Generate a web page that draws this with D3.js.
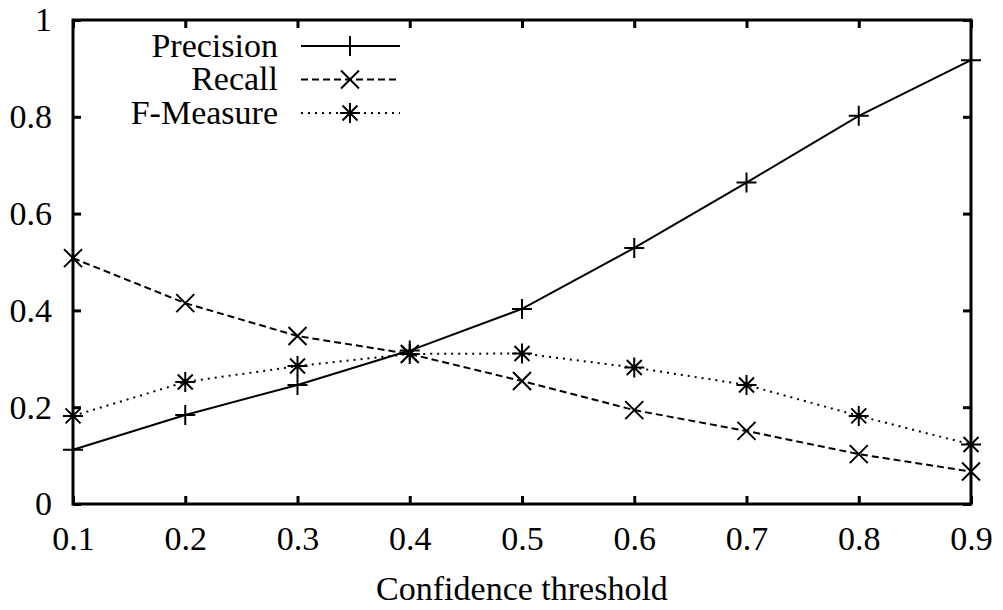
<!DOCTYPE html>
<html>
<head>
<meta charset="utf-8">
<script src="https://cdn.jsdelivr.net/npm/d3@7"></script>
<style>
  body { margin: 0; background: #fff; }
  svg text { font-family: "Liberation Serif", "Times New Roman", Times, serif !important; fill: #000; }
</style>
</head>
<body>
<div id="chart"></div>
<script>
// data
const thresholds = [0.1, 0.2, 0.3, 0.4, 0.5, 0.6, 0.7, 0.8, 0.9];
const precision = [0.112, 0.184, 0.246, 0.317, 0.403, 0.529, 0.664, 0.802, 0.917];
const recall = [0.508, 0.415, 0.347, 0.31, 0.254, 0.194, 0.151, 0.103, 0.067];
const fMeasure = [0.182, 0.252, 0.285, 0.31, 0.311, 0.282, 0.246, 0.182, 0.123];
const yTicks = [0, 0.2, 0.4, 0.6, 0.8, 1];
const seriesNames = ['Precision', 'Recall', 'F-Measure'];

const FONT = '"Liberation Serif", "Times New Roman", Times, serif';
const FS = 34;

const options = {
	w: 1003,
	h: 610,
	mTop: 20,
	mRight: 32,
	mBottom: 106,
	mLeft: 73
};

const width = options.w - (options.mLeft + options.mRight),
	height = options.h - (options.mTop + options.mBottom);

const svg = d3.select('#chart').append('svg')
	.attr('width', options.w)
	.attr('height', options.h)
	.attr('font-family', FONT);

const g = svg.append('g')
	.attr('transform', 'translate(' + options.mLeft + ',' + options.mTop + ')');

const x = d3.scaleLinear().domain([0.1, 0.9]).range([0, width]),
	y = d3.scaleLinear().domain([0, 1]).range([height, 0]);

// axes: ticks drawn inward on all four sides
const xAxis = d3.axisBottom(x).tickValues(thresholds).tickSize(-8).tickPadding(22).tickFormat(d3.format('.1f')),
	xAxisTop = d3.axisTop(x).tickValues(thresholds).tickSize(-8).tickFormat(''),
	yAxis = d3.axisLeft(y).tickValues(yTicks).tickSize(-8).tickPadding(21).tickFormat(d => d === 0 || d === 1 ? d : d3.format('.1f')(d)),
	yAxisRight = d3.axisRight(y).tickValues(yTicks).tickSize(-8).tickFormat('');

function styleAxis(sel) {
	sel.attr('font-family', FONT);
	sel.select('.domain').remove();
	sel.selectAll('.tick line').attr('stroke', '#000').attr('stroke-width', 3);
	sel.selectAll('.tick text').attr('font-size', FS).attr('fill', '#000');
}

g.append('g').attr('transform', 'translate(0,' + height + ')').call(xAxis).call(styleAxis)
	.selectAll('.tick text').attr('dy', '0.71em');
g.append('g').call(xAxisTop).call(styleAxis);
g.append('g').call(yAxis).call(styleAxis);
g.append('g').attr('transform', 'translate(' + width + ',0)').call(yAxisRight).call(styleAxis);

g.append('rect')
	.attr('width', width)
	.attr('height', height)
	.attr('fill', 'none')
	.attr('stroke', '#000')
	.attr('stroke-width', 3);

g.append('text')
	.attr('x', width / 2)
	.attr('y', height + 96)
	.attr('text-anchor', 'middle')
	.attr('font-size', FS)
	.text('Confidence threshold');

// markers
const markers = {
	plus: s => `M${-s},0H${s}M0,${-s}V${s}`,
	cross: s => `M${-s},${-s}L${s},${s}M${-s},${s}L${s},${-s}`,
	star: s => `M${-s},0H${s}M0,${-s}V${s}M${-s * 0.75},${-s * 0.75}L${s * 0.75},${s * 0.75}M${-s * 0.75},${s * 0.75}L${s * 0.75},${-s * 0.75}`
};

const series = [
	{ name: seriesNames[0], values: precision, dash: null, marker: markers.plus(10) },
	{ name: seriesNames[1], values: recall, dash: '7,4', marker: markers.cross(9) },
	{ name: seriesNames[2], values: fMeasure, dash: '2,5', marker: markers.star(10) }
];

const line = d3.line()
	.x((d, i) => x(thresholds[i]))
	.y(d => y(d));

series.forEach(s => {
	g.append('path')
		.datum(s.values)
		.attr('fill', 'none')
		.attr('stroke', '#000')
		.attr('stroke-width', 2)
		.attr('stroke-dasharray', s.dash)
		.attr('d', line);

	g.selectAll(null)
		.data(s.values)
		.enter()
		.append('path')
		.attr('transform', (d, i) => 'translate(' + x(thresholds[i]) + ',' + y(d) + ')')
		.attr('d', s.marker)
		.attr('stroke', '#000')
		.attr('stroke-width', 2)
		.attr('fill', 'none');
});

// legend
const legend = svg.append('g');
series.forEach((s, i) => {
	const ly = 46 + i * 33.5;
	legend.append('text')
		.attr('x', 278)
		.attr('y', ly)
		.attr('dy', '0.32em')
		.attr('text-anchor', 'end')
		.attr('font-size', FS)
		.text(s.name);
	legend.append('line')
		.attr('x1', 301).attr('x2', 400)
		.attr('y1', ly).attr('y2', ly)
		.attr('stroke', '#000')
		.attr('stroke-width', 2)
		.attr('stroke-dasharray', s.dash);
	legend.append('path')
		.attr('transform', 'translate(350,' + ly + ')')
		.attr('d', s.marker)
		.attr('stroke', '#000')
		.attr('stroke-width', 2)
		.attr('fill', 'none');
});
</script>
</body>
</html>
